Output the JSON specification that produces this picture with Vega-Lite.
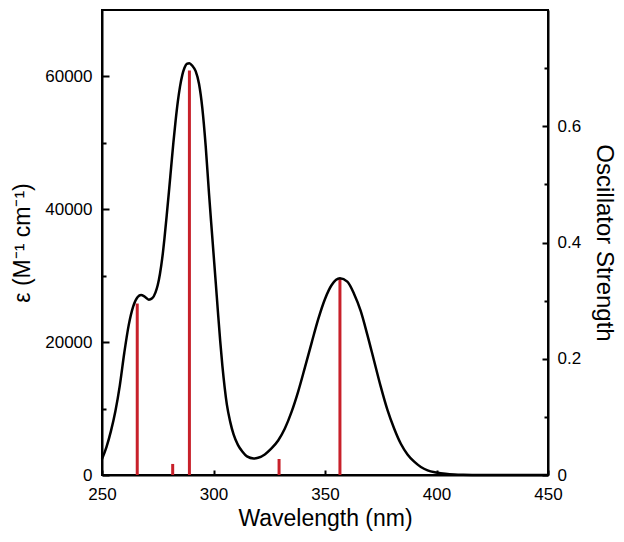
{
  "$schema": "https://vega.github.io/schema/vega-lite/v6.json",
  "autosize": {"type": "none"},
  "padding": {"left": 102, "top": 10, "right": 76, "bottom": 67},
  "width": 446,
  "height": 465,
  "background": "white",
  "config": {
    "font": "Liberation Sans",
    "view": {"stroke": "black", "strokeWidth": 2},
    "axis": {
      "domainColor": "black", "domainWidth": 2,
      "tickColor": "black", "tickWidth": 2,
      "labelColor": "black", "labelFontSize": 17, "labelFont": "Liberation Sans",
      "labelFlush": false, "labelOverlap": false,
      "titleColor": "black", "titleFontSize": 23, "titleFontWeight": "normal", "titleFont": "Liberation Sans",
      "grid": false
    }
  },
  "datasets": {
    "spectrum": [
      {"wl": 250, "eps": 2400}, {"wl": 252, "eps": 4200}, {"wl": 254, "eps": 6600}, {"wl": 256, "eps": 9600},
      {"wl": 258, "eps": 13500}, {"wl": 260, "eps": 18400}, {"wl": 262, "eps": 22600}, {"wl": 264, "eps": 25400},
      {"wl": 266, "eps": 26800}, {"wl": 267.5, "eps": 27100}, {"wl": 269, "eps": 26900}, {"wl": 271, "eps": 26400},
      {"wl": 272.5, "eps": 26600}, {"wl": 274, "eps": 27500}, {"wl": 275, "eps": 28600}, {"wl": 276, "eps": 30300},
      {"wl": 277, "eps": 32600}, {"wl": 278, "eps": 35600}, {"wl": 279, "eps": 39000}, {"wl": 280, "eps": 42600},
      {"wl": 281, "eps": 46300}, {"wl": 282, "eps": 50000}, {"wl": 283, "eps": 53300}, {"wl": 284, "eps": 56200},
      {"wl": 285, "eps": 58500}, {"wl": 286, "eps": 60200}, {"wl": 287, "eps": 61300}, {"wl": 288, "eps": 61900},
      {"wl": 289.2, "eps": 62000}, {"wl": 290.5, "eps": 61600},
      {"wl": 292, "eps": 60800}, {"wl": 293.5, "eps": 58900}, {"wl": 295, "eps": 55200}, {"wl": 296.5, "eps": 49500},
      {"wl": 298, "eps": 42300}, {"wl": 299, "eps": 37800}, {"wl": 300, "eps": 33400}, {"wl": 301, "eps": 29000},
      {"wl": 302, "eps": 24500}, {"wl": 303, "eps": 20200}, {"wl": 304, "eps": 16400}, {"wl": 305, "eps": 13200},
      {"wl": 306, "eps": 10600}, {"wl": 307.5, "eps": 8000}, {"wl": 309, "eps": 6100}, {"wl": 311, "eps": 4500},
      {"wl": 313, "eps": 3500}, {"wl": 315, "eps": 2800}, {"wl": 318, "eps": 2500}, {"wl": 320, "eps": 2600},
      {"wl": 323, "eps": 3100}, {"wl": 326, "eps": 4000}, {"wl": 329, "eps": 5200}, {"wl": 332, "eps": 7000},
      {"wl": 335, "eps": 9500}, {"wl": 338, "eps": 12600}, {"wl": 341, "eps": 16200}, {"wl": 344, "eps": 19900},
      {"wl": 347, "eps": 23500}, {"wl": 350, "eps": 26500}, {"wl": 353, "eps": 28600}, {"wl": 356.7, "eps": 29600},
      {"wl": 360, "eps": 29100}, {"wl": 363, "eps": 27300}, {"wl": 366, "eps": 24700}, {"wl": 369, "eps": 21100},
      {"wl": 372, "eps": 17200}, {"wl": 375, "eps": 13300}, {"wl": 378, "eps": 9800}, {"wl": 381, "eps": 7000},
      {"wl": 384, "eps": 4700}, {"wl": 387, "eps": 3100}, {"wl": 390, "eps": 2000}, {"wl": 393, "eps": 1200},
      {"wl": 396, "eps": 700}, {"wl": 400, "eps": 380}, {"wl": 404, "eps": 180}, {"wl": 408, "eps": 70},
      {"wl": 412, "eps": 20}, {"wl": 416, "eps": 0}, {"wl": 450, "eps": 0}
    ],
    "sticks": [
      {"wl": 265.8, "f": 0.295},
      {"wl": 281.7, "f": 0.019},
      {"wl": 289.2, "f": 0.696},
      {"wl": 329.4, "f": 0.0275},
      {"wl": 356.7, "f": 0.338}
    ]
  },
  "layer": [
    {
      "data": {"name": "sticks"},
      "mark": {"type": "rule", "color": "#c8202a", "strokeWidth": 3},
      "encoding": {
        "x": {"field": "wl", "type": "quantitative", "scale": {"domain": [250, 450], "nice": false}},
        "y": {
          "field": "f", "type": "quantitative",
          "scale": {"domain": [0, 0.8], "nice": false},
          "axis": {
            "orient": "right",
            "title": "Oscillator Strength",
            "titleFontSize": 24,
            "values": [0, 0.1, 0.2, 0.3, 0.4, 0.5, 0.6, 0.7],
            "labelExpr": "datum.value === 0 ? '0' : (round(datum.value * 10) % 2 === 0 ? format(datum.value, '.1f') : '')",
            "tickSize": {"condition": {"test": "round(datum.value * 10) % 2 === 0", "value": -6}, "value": -4},
            "labelPadding": 15,
            "titlePadding": 11
          }
        },
        "y2": {"datum": 0}
      }
    },
    {
      "data": {"name": "spectrum"},
      "mark": {"type": "line", "color": "black", "strokeWidth": 2.5, "interpolate": "monotone"},
      "encoding": {
        "x": {
          "field": "wl", "type": "quantitative",
          "scale": {"domain": [250, 450], "nice": false},
          "axis": {
            "title": "Wavelength (nm)",
            "values": [250, 300, 350, 400, 450],
            "tickSize": -5,
            "labelPadding": 16,
            "titlePadding": 5
          }
        },
        "y": {
          "field": "eps", "type": "quantitative",
          "scale": {"domain": [0, 70000], "nice": false},
          "axis": {
            "orient": "left",
            "title": "ε (M⁻¹ cm⁻¹)",
            "format": "d",
            "values": [0, 10000, 20000, 30000, 40000, 50000, 60000],
            "labelExpr": "datum.value % 20000 === 0 ? datum.label : ''",
            "tickSize": {"condition": {"test": "datum.value % 20000 === 0", "value": -7}, "value": -4},
            "labelPadding": 17,
            "titlePadding": 10
          }
        }
      }
    }
  ],
  "resolve": {"scale": {"y": "independent"}}
}
